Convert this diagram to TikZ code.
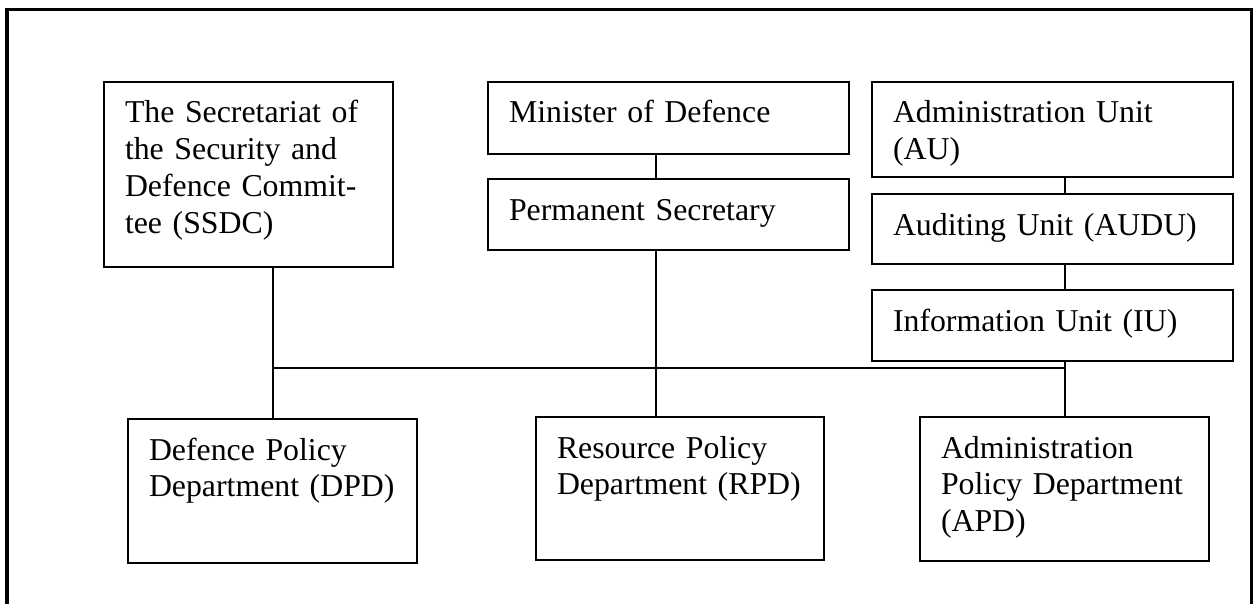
\documentclass[tikz,border=0pt]{standalone}
\usepackage{fontspec}
\setmainfont{Liberation Serif}
\begin{document}
\begin{tikzpicture}[x=1pt,y=-1pt,
  orgbox/.style={draw, line width=2pt, anchor=north west, inner xsep=21pt, inner ysep=0pt,
    align=left, text height=41pt, font=\fontsize{31.8}{36.7}\selectfont},
  link/.style={line width=2pt},
  frameline/.style={line cap=rect}]
\useasboundingbox (0,0) rectangle (1255,604);
% outer frame (bottom lies below the picture)
\draw[frameline, line width=4pt] (7,620) -- (7,10);
\draw[frameline, line width=3pt] (7,10) -- (1251.5,10);
\draw[frameline, line width=2.5pt] (1251.5,10) -- (1251.5,620);

% boxes
\node[orgbox, text width=247pt, text depth=144pt] (ssdc) at (103,81)
  {The~Secretariat~of\\the~Security~and\\Defence~Commit-\\tee~(SSDC)};
\node[orgbox, text width=319pt, text depth=31pt] (mod) at (487,81) {Minister~of~Defence};
\node[orgbox, text width=319pt, text depth=30pt] (ps) at (487,178) {Permanent~Secretary};
\node[orgbox, text width=319pt, text depth=54pt] (au) at (871,81) {Administration~Unit\\(AU)};
\node[orgbox, text width=319pt, text depth=29pt] (audu) at (871,193) {Auditing~Unit~(AUDU)};
\node[orgbox, text width=319pt, text depth=30pt] (iu) at (871,289) {Information~Unit~(IU)};
\node[orgbox, text width=247pt, text depth=103pt] (dpd) at (127,418) {Defence~Policy\\Department~(DPD)};
\node[orgbox, text width=246pt, text depth=102pt] (rpd) at (535,416) {Resource~Policy\\Department~(RPD)};
\node[orgbox, text width=247pt, text depth=103pt] (apd) at (919,416) {Administration\\Policy~Department\\(APD)};

% helper coordinates
\coordinate (midcol) at (656,0);
\coordinate (busy) at (0,368);

% connectors
\draw[link] (ssdc.south -| dpd.north) -- (dpd.north);
\draw[link] (mod.south -| midcol) -- (ps.north -| midcol);
\draw[link] (ps.south -| midcol) -- (rpd.north -| midcol);
\draw[link] (au.south -| apd.north) -- (audu.north -| apd.north);
\draw[link] (audu.south -| apd.north) -- (iu.north -| apd.north);
\draw[link] (iu.south -| apd.north) -- (apd.north);
\draw[link] (dpd.north |- busy) -- (apd.north |- busy);
\end{tikzpicture}
\end{document}
